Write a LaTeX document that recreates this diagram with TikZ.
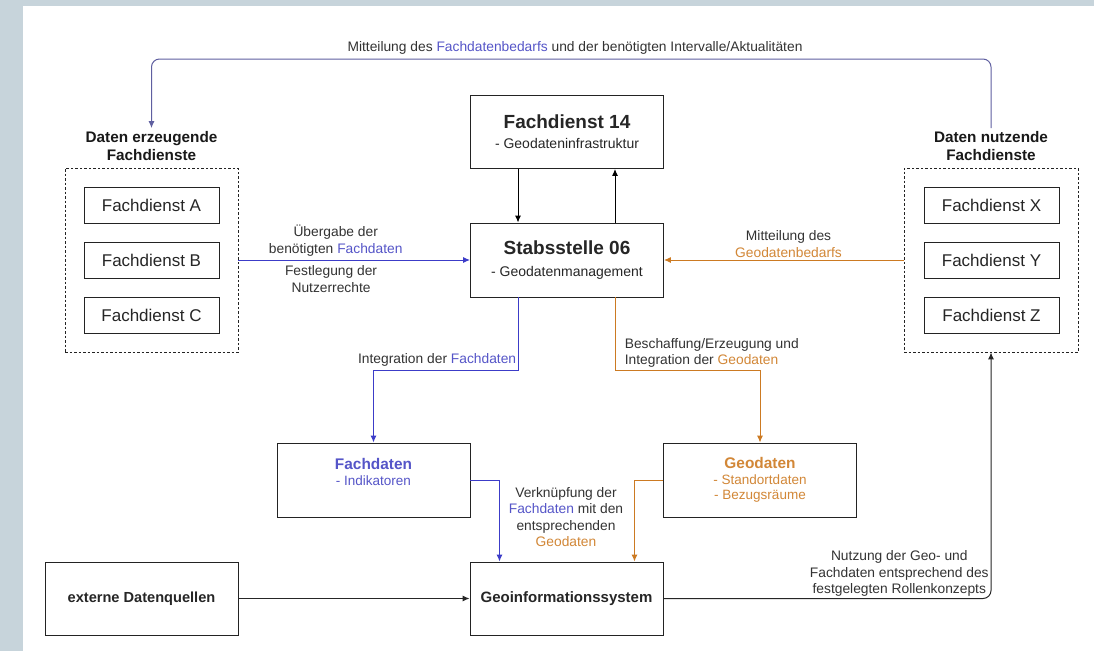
\documentclass[tikz,border=0pt]{standalone}
\usepackage{fontspec}
\setmainfont{Liberation Sans}
\usetikzlibrary{arrows.meta}
\definecolor{fdblue}{RGB}{60,60,200}
\definecolor{fdbluetext}{RGB}{85,85,200}
\definecolor{geoorange}{RGB}{204,122,34}
\definecolor{geoorangetext}{RGB}{210,135,55}
\definecolor{toplinecol}{RGB}{95,95,160}
\definecolor{bgstrip}{RGB}{199,212,219}
\definecolor{boxline}{RGB}{35,35,35}
\newcommand{\fd}[1]{\textcolor{fdbluetext}{#1}}
\newcommand{\geo}[1]{\textcolor{geoorangetext}{#1}}
\tikzset{%
  >={Latex[width=6pt,length=7pt]},
  % Specifications for style of nodes:
          base/.style = {rectangle, draw=boxline, line width=0.95pt,
                         text=black!85, align=center},
  box0/.style  = {base, minimum width=193pt, minimum height=73pt,
                  font=\fontsize{14}{17}\selectfont},
  box1/.style  = {base, minimum width=135pt, minimum height=36pt,
                  font=\fontsize{17}{20}\selectfont},
  gbox/.style  = {rectangle, draw=boxline, line width=0.9pt,
                  dash pattern=on 2.5pt off 2pt,
                  minimum width=173pt, minimum height=184pt},
  gtitle/.style = {align=center, text=black!90,
                   font=\fontsize{15.3}{17.5}\selectfont\bfseries},
  lbl/.style   = {align=center, text=black!80,
                  font=\fontsize{13.8}{16.5}\selectfont},
  conn/.style  = {line width=1pt},
}

\begin{document}
\begin{tikzpicture}[x=1pt, y=-1pt, node distance=55pt]

  \useasboundingbox (0,0) rectangle (1094,651);
  \fill[bgstrip] (0,0) rectangle (1094,651);
  \fill[white] (23,6) rectangle (1094,651);

  % Specification of nodes (position, etc.)
  \node (onFd14)      [box0] at (567,132)
        {{\fontsize{19}{22}\selectfont\bfseries Fachdienst 14}\\[3pt] - Geodateninfrastruktur};
  \node (onStab06)    [box0, minimum height=74pt] at (567,260)
        {{\fontsize{19}{22}\selectfont\bfseries Stabsstelle 06}\\[5pt] - Geodatenmanagement};
  \node (onFachdaten) [box0, minimum height=74pt, text=fdbluetext,
                       font=\fontsize{13.5}{15.8}\selectfont] at (373.5,480)
        {{\fontsize{15.4}{18}\selectfont\bfseries Fachdaten}\\- Indikatoren\\~};
  \node (onGeodaten)  [box0, minimum height=74pt, text=geoorangetext,
                       font=\fontsize{13.5}{15.5}\selectfont] at (760,480)
        {{\fontsize{15.4}{18}\selectfont\bfseries Geodaten}\\- Standortdaten\\- Bezugsräume};
  \node (onGis)       [box0, font=\fontsize{15}{18}\selectfont\bfseries] at (566.5,598.5)
        {Geoinformationssystem};
  \node (onExtern)    [box0, font=\fontsize{14.6}{18}\selectfont\bfseries] at (141.5,598.5)
        {externe Datenquellen};

  % groups of Fachdienste
  \node (onTitleL) [gtitle] at (151.5,146) {Daten erzeugende\\Fachdienste};
  \node (onGroupL) [gbox] at (151.5,260) {};
  \node (onFdB)    [box1] at (151.5,260) {Fachdienst B};
  \node (onFdA)    [box1, above of=onFdB] {Fachdienst A};
  \node (onFdC)    [box1, below of=onFdB] {Fachdienst C};

  \node (onTitleR) [gtitle] at (991,146) {Daten nutzende\\Fachdienste};
  \node (onGroupR) [gbox, minimum width=174pt] at (991,260) {};
  \node (onFdY)    [box1] at (991.5,260) {Fachdienst Y};
  \node (onFdX)    [box1, above of=onFdY] {Fachdienst X};
  \node (onFdZ)    [box1, below of=onFdY] {Fachdienst Z};

  % Specification of lines between nodes specified above
  % with aditional nodes for description
  \coordinate (onTopLine) at (575,59);
  \draw[->, conn, draw=toplinecol, rounded corners=8pt]
        (onTitleR.north) |- (onTopLine) -| (onTitleL.north);
  \node[lbl, above, yshift=1pt] at (onTopLine)
        {Mitteilung des \fd{Fachdatenbedarfs} und der benötigten Intervalle/Aktualitäten};

  \draw[->, conn, fdblue] (onGroupL.east) --
        node[lbl, pos=0.42, above] {Übergabe der\\benötigten \fd{Fachdaten}}
        node[lbl, pos=0.4, below, yshift=-2pt] {Festlegung der\\Nutzerrechte} (onStab06.west);
  \draw[->, conn, geoorange] (onGroupR.west) --
        node[lbl, pos=0.48, above, yshift=-1pt] {Mitteilung des\\\geo{Geodatenbedarfs}} (onStab06.east);

  \draw[->, conn] ([xshift=-49pt]onFd14.south) -- ([xshift=-49pt]onStab06.north);
  \draw[->, conn] ([xshift=48pt]onStab06.north) -- ([xshift=48pt]onFd14.south);

  \draw[->, conn, fdblue] ([xshift=-49pt]onStab06.south) -- ++(0,73)
        node[lbl, above left, xshift=2pt] {Integration der \fd{Fachdaten}} -| (onFachdaten.north);
  \draw[->, conn, geoorange] ([xshift=48pt]onStab06.south) -- ++(0,73)
        node[lbl, above right, align=left, xshift=6pt, yshift=-1pt]
        {Beschaffung/Erzeugung und\\Integration der \geo{Geodaten}} -| (onGeodaten.north);

  \draw[->, conn, fdblue] (onFachdaten.east) -| ([xshift=-67pt]onGis.north);
  \draw[->, conn, geoorange] (onGeodaten.west) -| ([xshift=68pt]onGis.north);
  \node[lbl] (onVerknLbl) at (566,517)
        {Verknüpfung der\\\fd{Fachdaten} mit den\\entsprechenden\\\geo{Geodaten}};

  \draw[->, conn, black!85] (onExtern.east) -- (onGis.west);
  \draw[->, conn, black!85, rounded corners=8pt] (onGis.east) -|
        node[lbl, pos=0.36, above, yshift=-2pt] {Nutzung der Geo- und\\Fachdaten entsprechend des\\festgelegten Rollenkonzepts}
        (onGroupR.south);
\end{tikzpicture}
\end{document}
